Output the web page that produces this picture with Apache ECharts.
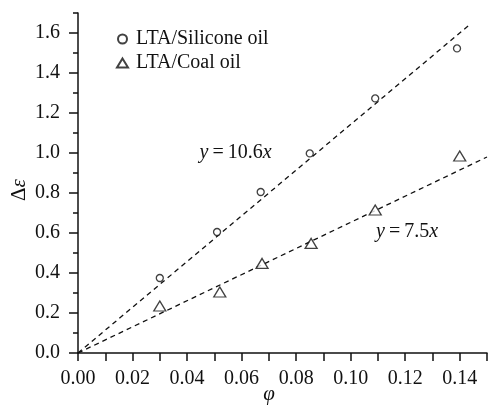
<!DOCTYPE html>
<html>
<head>
<meta charset="utf-8">
<script src="https://cdn.jsdelivr.net/npm/echarts@6/dist/echarts.min.js"></script>
<style>html,body{margin:0;padding:0;background:#fff}#c{width:488px;height:408px}</style>
</head>
<body>
<div id="c"></div>
<script>
const seriesNames = ['LTA/Silicone oil', 'LTA/Coal oil'];
const siliconeX = [0.030, 0.051, 0.067, 0.085, 0.109, 0.139];
const siliconeY = [0.375, 0.605, 0.805, 0.998, 1.273, 1.523];
const coalX = [0.030, 0.052, 0.0675, 0.0855, 0.109, 0.140];
const coalY = [0.235, 0.305, 0.448, 0.548, 0.715, 0.985];
const fitSiliconeX = [0, 0.1435];
const fitSiliconeY = [0, 1.64];
const fitCoalX = [0, 0.15];
const fitCoalY = [0, 0.98];
const eqSilicone = {coef: '10.6', x: 0.0578, y: 1.0};
const eqCoal = {coef: '7.5', x: 0.1207, y: 0.605};
const yMajorTicks = [0, 0.2, 0.4, 0.6, 0.8, 1.0, 1.2, 1.4, 1.6];

const FONT = 'Liberation Serif';
const zip = (a, b) => a.map((v, i) => [v, b[i]]);
const eqRich = {
  i: {fontFamily: FONT, fontSize: 20, fontStyle: 'italic', color: '#111'},
  n: {fontFamily: FONT, fontSize: 20, color: '#111'}
};
function eqLabel(e) {
  return {
    show: true, position: 'inside',
    formatter: '{i|y}{n|\u2009=\u2009' + e.coef + '}{i|x}',
    rich: eqRich
  };
}
const axisLine = {show: true, lineStyle: {color: '#111', width: 1.5}};

const chart = echarts.init(document.getElementById('c'));
chart.setOption({
  animation: false,
  backgroundColor: '#fff',
  grid: {left: 78, right: 1, top: 13, bottom: 55, containLabel: false, outerBoundsMode: 'none'},
  legend: {
    orient: 'vertical', left: 111, top: 24, itemGap: 4,
    itemWidth: 11, itemHeight: 9,
    data: seriesNames,
    textStyle: {fontFamily: FONT, fontSize: 20, color: '#111', padding: [0, 0, 0, 3]}
  },
  xAxis: {
    type: 'value', min: 0, max: 0.15, interval: 0.01,
    name: 'φ', nameLocation: 'middle', nameGap: 31, nameMoveOverlap: false,
    nameTextStyle: {fontFamily: FONT, fontSize: 21, fontStyle: 'italic', color: '#111', padding: [0, 27, 0, 0]},
    axisLine: axisLine,
    axisTick: {show: true, inside: false, length: 8, lineStyle: {color: '#111', width: 1.5}},
    axisLabel: {
      margin: 16, fontFamily: FONT, fontSize: 20, color: '#111',
      formatter: v => (Math.round(v * 100) % 2 === 0 ? v.toFixed(2) : '')
    },
    splitLine: {show: false}
  },
  yAxis: [{
    type: 'value', min: 0, max: 1.7, interval: 0.1,
    name: '{a|Δ}{b|ε}', nameLocation: 'middle', nameGap: 48, nameMoveOverlap: false,
    nameTextStyle: {padding: [0, 14, 0, 0], rich: {
      a: {fontFamily: FONT, fontSize: 21, color: '#111'},
      b: {fontFamily: FONT, fontSize: 21, fontStyle: 'italic', color: '#111'}
    }},
    axisLine: axisLine,
    axisTick: {show: true, inside: false, length: 5, lineStyle: {color: '#111', width: 1.5}},
    axisLabel: {
      margin: 18, fontFamily: FONT, fontSize: 20, color: '#111',
      formatter: v => (Math.round(v * 10) % 2 === 0 ? v.toFixed(1) : '')
    },
    splitLine: {show: false}
  }, {
    type: 'value', min: 0, max: 1.7, interval: 0.1, position: 'left', offset: 0,
    axisLine: {show: false},
    axisTick: {show: true, inside: false, length: 9, customValues: yMajorTicks, lineStyle: {color: '#111', width: 1.5}},
    axisLabel: {show: false},
    splitLine: {show: false}
  }],
  series: [
    {
      name: seriesNames[0], type: 'scatter', yAxisIndex: 0,
      symbol: 'circle', symbolSize: 7,
      itemStyle: {color: '#fff', borderColor: '#111', borderWidth: 1.3},
      data: zip(siliconeX, siliconeY), z: 3
    },
    {
      name: seriesNames[1], type: 'scatter', yAxisIndex: 0,
      symbol: 'triangle', symbolSize: [12, 10],
      itemStyle: {color: '#fff', borderColor: '#111', borderWidth: 1.3},
      data: zip(coalX, coalY), z: 3
    },
    {
      name: 'fit1', type: 'line', yAxisIndex: 0, symbol: 'none',
      lineStyle: {color: '#111', width: 1.3, type: [5, 4]},
      data: zip(fitSiliconeX, fitSiliconeY),
      markPoint: {symbol: 'circle', symbolSize: 1, itemStyle: {color: 'rgba(0,0,0,0)'},
        label: eqLabel(eqSilicone), data: [{coord: [eqSilicone.x, eqSilicone.y]}]}
    },
    {
      name: 'fit2', type: 'line', yAxisIndex: 0, symbol: 'none',
      lineStyle: {color: '#111', width: 1.3, type: [5, 4]},
      data: zip(fitCoalX, fitCoalY),
      markPoint: {symbol: 'circle', symbolSize: 1, itemStyle: {color: 'rgba(0,0,0,0)'},
        label: eqLabel(eqCoal), data: [{coord: [eqCoal.x, eqCoal.y]}]}
    }
  ]
});
</script>
</body>
</html>
